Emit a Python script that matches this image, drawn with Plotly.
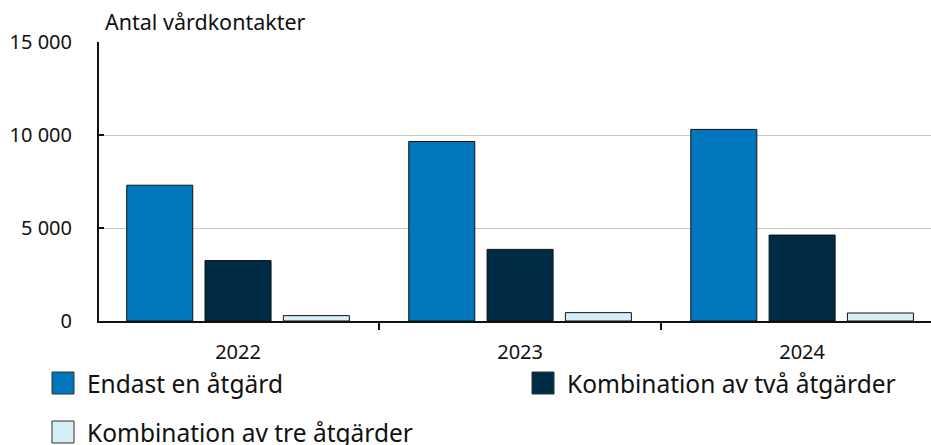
import plotly.graph_objects as go

years = ["2022", "2023", "2024"]
series_names = ["Endast en åtgärd", "Kombination av två åtgärder", "Kombination av tre åtgärder"]
endast_en = [7300, 9650, 10300]
tva_atgarder = [3250, 3850, 4620]
tre_atgarder = [290, 450, 430]
y_ticks = [0, 5000, 10000, 15000]
y_tick_labels = ["0", "5 000", "10 000", "15 000"]

colors = ["#0077bc", "#002b45", "#d6eef6"]
values = [endast_en, tva_atgarder, tre_atgarder]

FONT = "Noto Sans"
W, H = 931, 445
M_L, M_R, M_T, M_B = 99, 0, 42, 124
PW, PH = W - M_L - M_R, H - M_T - M_B


def px_to_paper(px, py):
    """Convert figure pixel coordinates to plot-area paper coordinates."""
    return (px - M_L) / PW, (H - M_B - py) / PH


fig = go.Figure()
for name, vals, col in zip(series_names, values, colors):
    fig.add_trace(go.Bar(
        x=years, y=vals, name=name,
        marker=dict(color=col, line=dict(color="#111111", width=1)),
        showlegend=False,
    ))

# Legend drawn as swatches + labels below the plot (two entries on row one, one on row two)
legend_slots = [(52, 383), (532, 383), (52, 432)]
shapes, annotations = [], []
for (lx, ly), name, col in zip(legend_slots, series_names, colors):
    x0, y0 = px_to_paper(lx, ly + 11)
    x1, y1 = px_to_paper(lx + 22, ly - 11)
    shapes.append(dict(type="rect", xref="paper", yref="paper",
                       x0=x0, y0=y0, x1=x1, y1=y1,
                       fillcolor=col, line=dict(color="#333333", width=1)))
    tx, ty = px_to_paper(lx + 33, ly)
    annotations.append(dict(text=name, xref="paper", yref="paper", x=tx, y=ty,
                            xanchor="left", yanchor="middle", showarrow=False,
                            font=dict(size=24.5, color="#111111")))

tx, ty = px_to_paper(103, 21)
annotations.append(dict(text="Antal vårdkontakter", xref="paper", yref="paper",
                        x=tx, y=ty, xanchor="left", yanchor="middle",
                        showarrow=False, font=dict(size=21.5, color="#111111")))

fig.update_layout(
    width=W, height=H,
    margin=dict(l=M_L, r=M_R, t=M_T, b=M_B),
    paper_bgcolor="white", plot_bgcolor="white",
    font=dict(family=FONT, size=20, color="#111111"),
    barmode="group", bargap=0.167, bargroupgap=0.157,
    showlegend=False,
    shapes=shapes, annotations=annotations,
)

fig.update_xaxes(
    range=[-0.493, 2.457], showline=True, linecolor="#111111", linewidth=2,
    ticks="outside", ticklen=7, tickwidth=2, tickcolor="#111111",
    tickson="boundaries", showgrid=False, fixedrange=True,
    ticklabelstandoff=12,
)
fig.update_yaxes(
    range=[0, 15000], tickvals=y_ticks, ticktext=y_tick_labels,
    showline=True, linecolor="#111111", linewidth=2,
    ticks="inside", ticklen=5, tickwidth=2, tickcolor="#111111",
    showgrid=True, gridcolor="#c8c8c8", gridwidth=1,
    zeroline=False, ticklabelstandoff=21, fixedrange=True,
)

fig.write_html("out.html")
